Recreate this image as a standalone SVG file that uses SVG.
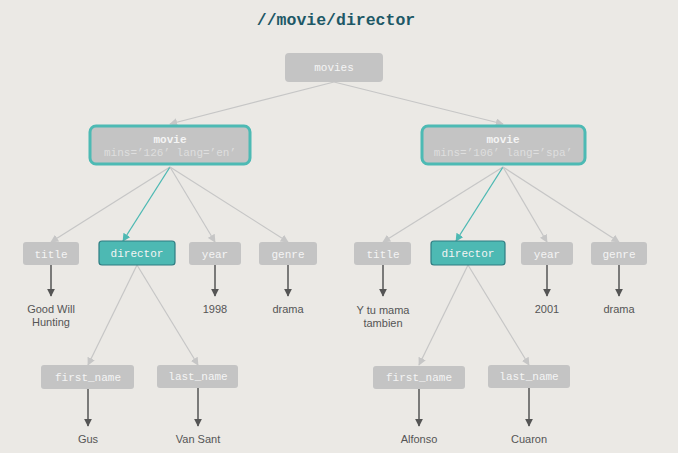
<svg xmlns="http://www.w3.org/2000/svg" width="678" height="453" viewBox="0 0 678 453">
<defs>
<style>
.bg{fill:#ebe9e5}
.title{font-family:"Liberation Mono",monospace;font-weight:bold;font-size:16.5px;fill:#1d5866;text-anchor:middle}
.box{fill:#c4c4c4}
.mv{fill:#c4c4c4;stroke:#4dbab4;stroke-width:3}
.dir{fill:#4db9b3;stroke:#2f7d82;stroke-width:1.2}
.lbl{font-family:"Liberation Mono",monospace;font-size:11px;fill:#f4f4f4;text-anchor:middle}
.lblb{font-family:"Liberation Mono",monospace;font-size:11px;font-weight:bold;fill:#f4f4f4;text-anchor:middle}
.attr{font-family:"Liberation Mono",monospace;font-size:11px;fill:#dedede;text-anchor:middle}
.val{font-family:"Liberation Sans",Arial,sans-serif;font-size:11px;fill:#555;text-anchor:middle}
.g{stroke:#c6c6c6;stroke-width:1.2;fill:none}
.t{stroke:#4db9b3;stroke-width:1.3;fill:none}
.d{stroke:#555;stroke-width:1.5;fill:none}
</style>
<marker id="ag" viewBox="0 0 10 10" refX="9" refY="5" markerWidth="8" markerHeight="8" markerUnits="userSpaceOnUse" orient="auto"><path d="M0,0 L10,5 L0,10 z" fill="#c6c6c6"/></marker>
<marker id="at" viewBox="0 0 10 10" refX="9" refY="5" markerWidth="8" markerHeight="8" markerUnits="userSpaceOnUse" orient="auto"><path d="M0,0 L10,5 L0,10 z" fill="#4db9b3"/></marker>
<marker id="ad" viewBox="0 0 10 10" refX="9" refY="5" markerWidth="8" markerHeight="8" markerUnits="userSpaceOnUse" orient="auto"><path d="M0,0 L10,5 L0,10 z" fill="#555"/></marker>
</defs>
<rect class="bg" x="0" y="0" width="678" height="453"/>
<text class="title" x="336" y="25">//movie/director</text>

<g id="connectors">
<line class="g" x1="334" y1="82" x2="170" y2="124" marker-end="url(#ag)"/>
<line class="g" x1="334" y1="82" x2="503" y2="124" marker-end="url(#ag)"/>
<line class="g" x1="170" y1="167" x2="51" y2="242" marker-end="url(#ag)"/>
<line class="t" x1="170" y1="167" x2="123" y2="241" marker-end="url(#at)"/>
<line class="g" x1="170" y1="167" x2="215" y2="242" marker-end="url(#ag)"/>
<line class="g" x1="170" y1="167" x2="288" y2="242" marker-end="url(#ag)"/>
<line class="g" x1="503" y1="167" x2="383" y2="242" marker-end="url(#ag)"/>
<line class="t" x1="503" y1="167" x2="456" y2="241" marker-end="url(#at)"/>
<line class="g" x1="503" y1="167" x2="547" y2="242" marker-end="url(#ag)"/>
<line class="g" x1="503" y1="167" x2="619" y2="242" marker-end="url(#ag)"/>
<line class="g" x1="137" y1="265" x2="88" y2="365" marker-end="url(#ag)"/>
<line class="g" x1="137" y1="265" x2="198" y2="365" marker-end="url(#ag)"/>
<line class="g" x1="468" y1="265" x2="419" y2="365" marker-end="url(#ag)"/>
<line class="g" x1="468" y1="265" x2="529" y2="365" marker-end="url(#ag)"/>
<line class="d" x1="51" y1="265" x2="51" y2="296" marker-end="url(#ad)"/>
<line class="d" x1="215" y1="265" x2="215" y2="296" marker-end="url(#ad)"/>
<line class="d" x1="288" y1="265" x2="288" y2="296" marker-end="url(#ad)"/>
<line class="d" x1="383" y1="265" x2="383" y2="296" marker-end="url(#ad)"/>
<line class="d" x1="547" y1="265" x2="547" y2="296" marker-end="url(#ad)"/>
<line class="d" x1="619" y1="265" x2="619" y2="296" marker-end="url(#ad)"/>
<line class="d" x1="88" y1="389" x2="88" y2="426" marker-end="url(#ad)"/>
<line class="d" x1="198" y1="388" x2="198" y2="426" marker-end="url(#ad)"/>
<line class="d" x1="419" y1="389" x2="419" y2="426" marker-end="url(#ad)"/>
<line class="d" x1="529" y1="388" x2="529" y2="426" marker-end="url(#ad)"/>
</g>

<g id="movies"><rect class="box" x="285" y="53" width="98" height="29" rx="4"/><text class="lbl" x="334" y="71">movies</text></g>

<g id="movie1"><rect class="mv" x="90" y="126" width="160" height="38" rx="6"/><text class="lblb" x="170" y="143">movie</text><text class="attr" x="170" y="156">mins=’126’ lang=’en’</text></g>
<g id="movie2"><rect class="mv" x="422" y="126" width="163" height="38" rx="6"/><text class="lblb" x="503" y="143">movie</text><text class="attr" x="503" y="156">mins=’106’ lang=’spa’</text></g>

<g id="title1"><rect class="box" x="23" y="242" width="56" height="23" rx="3"/><text class="lbl" x="51" y="258">title</text></g>
<g id="director1"><rect class="dir" x="99" y="241" width="76" height="24" rx="3"/><text class="lbl" x="137" y="257">director</text></g>
<g id="year1"><rect class="box" x="189" y="242" width="52" height="23" rx="3"/><text class="lbl" x="215" y="258">year</text></g>
<g id="genre1"><rect class="box" x="259" y="242" width="58" height="23" rx="3"/><text class="lbl" x="288" y="258">genre</text></g>

<g id="title2"><rect class="box" x="354" y="242" width="57" height="23" rx="3"/><text class="lbl" x="383" y="258">title</text></g>
<g id="director2"><rect class="dir" x="431" y="241" width="74" height="24" rx="3"/><text class="lbl" x="468" y="257">director</text></g>
<g id="year2"><rect class="box" x="521" y="242" width="52" height="23" rx="3"/><text class="lbl" x="547" y="258">year</text></g>
<g id="genre2"><rect class="box" x="591" y="242" width="56" height="23" rx="3"/><text class="lbl" x="619" y="258">genre</text></g>

<g id="v-title1"><text class="val" x="51" y="313">Good Will</text><text class="val" x="51" y="326">Hunting</text></g>
<g id="v-year1"><text class="val" x="215" y="313">1998</text></g>
<g id="v-genre1"><text class="val" x="288" y="313">drama</text></g>
<g id="v-title2"><text class="val" x="383" y="314">Y tu mama</text><text class="val" x="383" y="327">tambien</text></g>
<g id="v-year2"><text class="val" x="547" y="313">2001</text></g>
<g id="v-genre2"><text class="val" x="619" y="313">drama</text></g>

<g id="first1"><rect class="box" x="41" y="365" width="93" height="24" rx="3"/><text class="lbl" x="88" y="381">first_name</text></g>
<g id="last1"><rect class="box" x="157" y="365" width="81" height="23" rx="3"/><text class="lbl" x="198" y="380">last_name</text></g>
<g id="first2"><rect class="box" x="373" y="366" width="92" height="23" rx="3"/><text class="lbl" x="419" y="381">first_name</text></g>
<g id="last2"><rect class="box" x="488" y="365" width="82" height="23" rx="3"/><text class="lbl" x="529" y="380">last_name</text></g>

<g id="v-first1"><text class="val" x="88" y="443">Gus</text></g>
<g id="v-last1"><text class="val" x="198" y="443">Van Sant</text></g>
<g id="v-first2"><text class="val" x="419" y="443">Alfonso</text></g>
<g id="v-last2"><text class="val" x="529" y="443">Cuaron</text></g>
</svg>
